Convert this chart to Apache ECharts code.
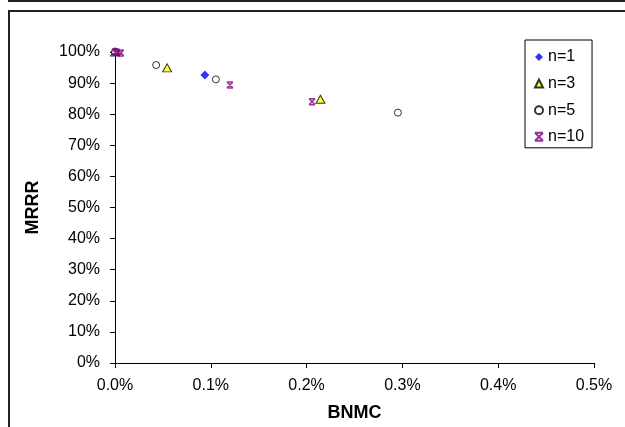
<!DOCTYPE html>
<html>
<head>
<meta charset="utf-8">
<script src="https://cdn.jsdelivr.net/npm/echarts@6/dist/echarts.min.js"></script>
<style>html,body{margin:0;padding:0;background:#fff}#c{width:625px;height:427px}</style>
</head>
<body>
<div id="c"></div>
<script>
const xTicks = [0, 0.001, 0.002, 0.003, 0.004, 0.005];
const yTicks = [0, 0.1, 0.2, 0.3, 0.4, 0.5, 0.6, 0.7, 0.8, 0.9, 1.0];
const n1X = [0, 0.000938];
const n1Y = [1.0, 0.926];
const n3X = [0, 0.000544, 0.002144];
const n3Y = [1.0, 0.949, 0.848];
const n5X = [0, 0.000430, 0.001053, 0.002953];
const n5Y = [1.0, 0.958, 0.912, 0.805];
const n10X = [0, 0.00002, 0.00006, 0.00120, 0.002057];
const n10Y = [1.0, 0.999, 0.997, 0.894, 0.840];

const zip = (xs, ys) => xs.map((x, i) => [x, ys[i]]);
const font = 'Arial, "Liberation Sans", sans-serif';
const xPath = 'path://M0,0 L10,0 M0,10 L10,10 M0,0 L10,10 M10,0 L0,10';

const chart = echarts.init(document.getElementById('c'), null, {renderer: 'canvas'});
chart.setOption({
  animation: false,
  backgroundColor: '#fff',
  textStyle: {fontFamily: font},
  graphic: [
    {type: 'line', shape: {x1: 8, y1: 1, x2: 625, y2: 1}, style: {stroke: '#222', lineWidth: 2}},
    {type: 'polyline', shape: {points: [[9, 427], [9, 11], [625, 11]]}, style: {stroke: '#222', lineWidth: 2, fill: null}}
  ],
  grid: {left: 115, right: 31, top: 52, bottom: 64},
  legend: {
    orient: 'vertical',
    left: 525, top: 40,
    borderColor: '#000', borderWidth: 1,
    padding: [9, 8, 3, 9],
    itemGap: 10.6,
    itemWidth: 8, itemHeight: 8,
    itemTextGap: 6,
    textStyle: {fontFamily: font, fontSize: 16, lineHeight: 16, color: '#000'},
    data: ['n=1', 'n=3', 'n=5', 'n=10']
  },
  xAxis: {
    type: 'value', min: 0, max: 0.005, interval: 0.001,
    name: 'BNMC', nameLocation: 'middle', nameGap: 41,
    nameTextStyle: {fontFamily: font, fontSize: 18, fontWeight: 'bold', color: '#000'},
    axisLine: {show: true, onZero: false, lineStyle: {color: '#000', width: 1}},
    axisTick: {show: true, length: 5, lineStyle: {color: '#000'}},
    splitLine: {show: false},
    axisLabel: {fontFamily: font, fontSize: 16, color: '#000', margin: 15,
      formatter: v => (v * 100).toFixed(1) + '%'}
  },
  yAxis: {
    type: 'value', min: 0, max: 1, interval: 0.1,
    name: 'MRRR', nameLocation: 'middle', nameGap: 73,
    nameTextStyle: {fontFamily: font, fontSize: 18, fontWeight: 'bold', color: '#000'},
    axisLine: {show: true, onZero: false, lineStyle: {color: '#000', width: 1}},
    axisTick: {show: true, length: 5, lineStyle: {color: '#000'}},
    splitLine: {show: false},
    axisLabel: {fontFamily: font, fontSize: 16, color: '#000', margin: 15,
      formatter: v => Math.round(v * 100) + '%'}
  },
  series: [
    {name: 'n=1', type: 'scatter', data: zip(n1X, n1Y), symbol: 'diamond', symbolSize: [9, 9],
      itemStyle: {color: '#0000FF'}},
    {name: 'n=3', type: 'scatter', data: zip(n3X, n3Y), symbol: 'triangle', symbolSize: [9, 8],
      itemStyle: {color: '#FFFF00', borderColor: '#000', borderWidth: 1}},
    {name: 'n=5', type: 'scatter', data: zip(n5X, n5Y), symbol: 'circle', symbolSize: 7,
      itemStyle: {color: '#fff', borderColor: '#000', borderWidth: 1}},
    {name: 'n=10', type: 'scatter', data: zip(n10X, n10Y), symbol: xPath, symbolSize: 6,
      itemStyle: {color: 'rgba(0,0,0,0)', borderColor: '#800080', borderWidth: 1.6}}
  ]
});
</script>
</body>
</html>
